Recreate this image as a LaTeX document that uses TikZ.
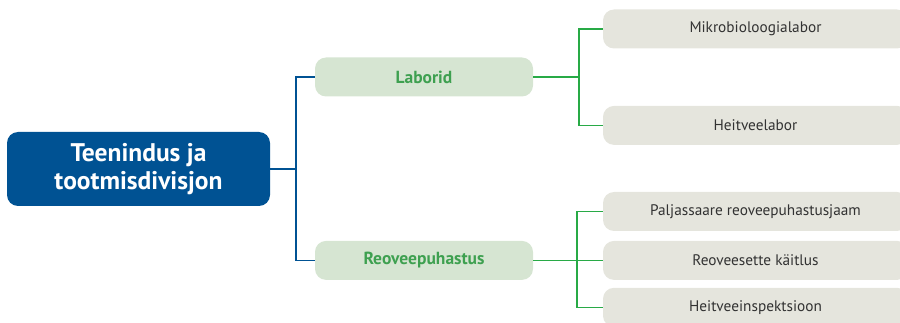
\documentclass[tikz,border=0pt]{standalone}
\usepackage{fontspec}
\setmainfont{PT Sans}
\usetikzlibrary{positioning,calc}
\definecolor{OrgBlue}{RGB}{0,82,147}
\definecolor{OrgGreen}{RGB}{62,160,80}
\definecolor{OrgLine}{RGB}{40,170,70}
\definecolor{OrgMint}{RGB}{214,229,210}
\definecolor{OrgStone}{RGB}{229,229,221}
\definecolor{OrgInk}{RGB}{50,50,50}
\tikzset{
  org box/.style={
    rounded corners=11pt,
    align=center,
    inner sep=0pt
  },
  org root/.style={org box, fill=OrgBlue, text=white,
    minimum width=263pt, minimum height=74pt,
    font=\fontsize{25.5}{28.5}\selectfont\bfseries},
  org unit/.style={org box, fill=OrgMint, text=OrgGreen,
    minimum width=218pt, minimum height=39pt,
    font=\fontsize{17.5}{20}\selectfont\bfseries},
  org leaf/.style={org box, fill=OrgStone, text=OrgInk,
    minimum width=305pt, minimum height=39pt,
    font=\fontsize{15.3}{18}\selectfont},
  org blue link/.style={OrgBlue, line width=1.5pt},
  org green link/.style={OrgLine, line width=1.5pt}
}

\begin{document}
\begin{tikzpicture}[x=1pt,y=1pt]
\useasboundingbox (0,0) rectangle (900,-323);
\clip (0,0) rectangle (900,-323);
% main division and its two units
\node[org root] (root) at (138.5,-169) {Teenindus ja\\tootmisdivisjon};
\node[org unit] (lab) at (424,-77) {Laborid};
\node[org unit, below=144pt of lab] (reo) {Reoveepuhastus};
% units of Laborid
\node[org leaf] (mik) at (755.5,-29) {Mikrobioloogialabor};
\node[org leaf, below=57pt of mik] (hlab) {Heitveelabor};
% units of Reoveepuhastus
\node[org leaf] (pal) at (755.5,-211.5) {Paljassaare reoveepuhastusjaam};
\node[org leaf, below=9.5pt of pal] (sette) {Reoveesette käitlus};
\node[org leaf, below=7.5pt of sette] (insp) {Heitveeinspektsioon};
% connectors
\draw[org blue link] (root.east) -- ++(26,0) coordinate (jr);
\draw[org blue link] (jr) |- (lab.west);
\draw[org blue link] (jr) |- (reo.west);
\draw[org green link] (lab.east) -- ++(46,0) coordinate (jl);
\draw[org green link] (jl) |- (mik.west);
\draw[org green link] (jl) |- (hlab.west);
\draw[org green link] (reo.east) -- ++(44,0) coordinate (jp);
\draw[org green link] (jp) |- (pal.west);
\draw[org green link] (jp) |- (sette.west);
\draw[org green link] (jp) |- (insp.west);
\end{tikzpicture}
\end{document}
